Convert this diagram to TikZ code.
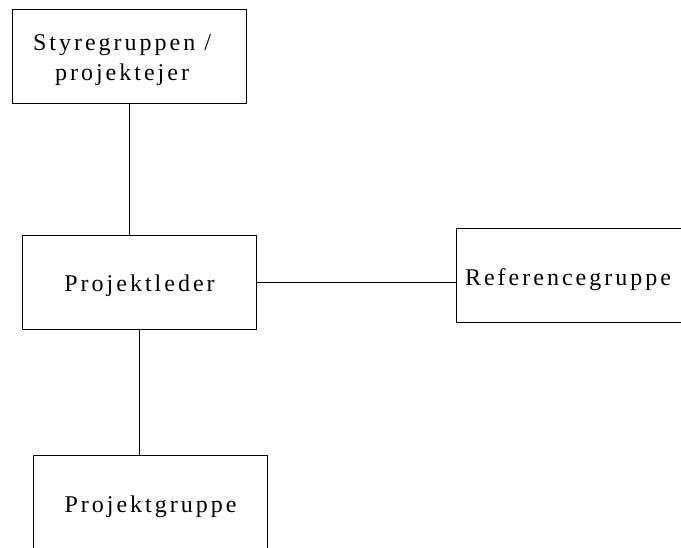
\documentclass[tikz,border=0pt]{standalone}
\usepackage{fontspec}
\newfontfamily\spacedfont[LetterSpace=12.5]{Liberation Serif}
\begin{document}
\begin{tikzpicture}[x=1pt,y=1pt,
  orgbox/.style={draw=black, line width=1pt, rectangle, minimum width=234pt, minimum height=94pt, inner sep=0pt},
  orgtext/.style={anchor=base, inner sep=0pt, align=center, font=\spacedfont\fontsize{24}{30}\selectfont},
  link/.style={draw=black, line width=1pt}]
\useasboundingbox (0,0) rectangle (681,-547);
\clip (0,0) rectangle (681,-547);
\node[orgbox] (sty) at (129,-56) {};
\node[orgbox] (proj) at (139,-282) {};
\node[orgbox] (ref) at (573,-275.5) {};
\node[orgbox] (grp) at (150.5,-502) {};
\node[orgtext] (styt) at (122,-80) {Styregruppen /\\projektejer};
\node[orgtext] (projt) at (139.5,-291.7) {Projektleder};
\node[orgtext] (reft) at (568,-285) {Referencegruppe};
\node[orgtext] (grpt) at (150.5,-512) {Projektgruppe};
\draw[link] (sty.south) -- (sty.south |- proj.north);
\draw[link] (proj.east) -- (proj.east -| ref.west);
\draw[link] (proj.south) -- (proj.south |- grp.north);
\end{tikzpicture}
\end{document}
